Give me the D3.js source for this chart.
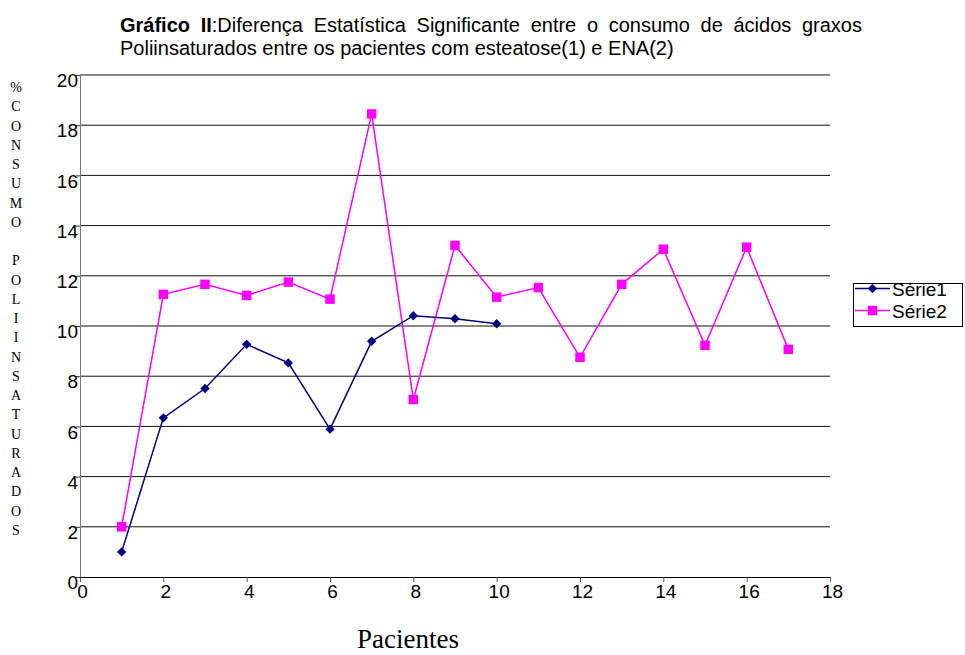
<!DOCTYPE html>
<html>
<head>
<meta charset="utf-8">
<script src="https://cdn.jsdelivr.net/npm/d3@7"></script>
<style>
  html, body { margin: 0; padding: 0; background: #fff; }
  svg { display: block; }
</style>
</head>
<body>
<svg id="chart" width="965" height="655"></svg>
<script>
// Patients on the x axis, % polyunsaturated intake on the y axis
const pacientes1 = [1, 2, 3, 4, 5, 6, 7, 8, 9, 10];
const serie1 = [1.0, 6.34, 7.51, 9.27, 8.53, 5.89, 9.39, 10.41, 10.29, 10.09];
const pacientes2 = [1, 2, 3, 4, 5, 6, 7, 8, 9, 10, 11, 12, 13, 14, 15, 16, 17];
const serie2 = [2.0, 11.26, 11.66, 11.22, 11.75, 11.07, 18.45, 7.07, 13.21, 11.15, 11.53, 8.75, 11.66, 13.06, 9.23, 13.14, 9.07];
const xTicks = [0, 2, 4, 6, 8, 10, 12, 14, 16, 18];
const yTicks = [0, 2, 4, 6, 8, 10, 12, 14, 16, 18, 20];
const seriesNames = ["Série1", "Série2"];
const yLabel = "%CONSUMO POLIINSATURADOS";
const xLabel = "Pacientes";
const titleBold = "Gráfico II";
const titleLine1 = ":Diferença Estatística Significante entre o consumo de ácidos graxos";
const titleLine2 = "Poliinsaturados entre os pacientes com esteatose(1) e ENA(2)";

const svg = d3.select("#chart");
const x = d3.scaleLinear().domain([0, 18]).range([80, 830]);
const y = d3.scaleLinear().domain([0, 20]).range([577, 75]);

// Horizontal gridlines
svg.append("g")
  .selectAll("line")
  .data(yTicks.filter(d => d > 0))
  .join("line")
  .attr("x1", x(0)).attr("x2", x(18))
  .attr("y1", d => y(d)).attr("y2", d => y(d))
  .attr("stroke", "#111").attr("stroke-width", 1);

// Y axis
const yAxis = svg.append("g")
  .attr("transform", `translate(${x(0)},0)`)
  .call(d3.axisLeft(y).tickValues(yTicks).tickSize(4).tickSizeOuter(0).tickPadding(-2));
yAxis.select(".domain").attr("stroke", "#777");
yAxis.selectAll(".tick line").attr("stroke", "#333");
yAxis.selectAll(".tick text")
  .attr("font-family", "Liberation Sans, Arial, sans-serif")
  .attr("font-size", 19).attr("fill", "#000")
  .attr("dy", "0.62em");

// X axis
const xAxis = svg.append("g")
  .attr("transform", `translate(0,${y(0)})`)
  .call(d3.axisBottom(x).tickValues(xTicks).tickSize(5).tickSizeOuter(0).tickPadding(3));
xAxis.select(".domain").attr("stroke", "#000");
xAxis.selectAll(".tick line").attr("stroke", "#555");
xAxis.selectAll(".tick text")
  .attr("font-family", "Liberation Sans, Arial, sans-serif")
  .attr("font-size", 19).attr("fill", "#000")
  .attr("dx", 2);

// Series lines and markers
const line = d3.line().x(d => x(d[0])).y(d => y(d[1]));
const data1 = pacientes1.map((p, i) => [p, serie1[i]]);
const data2 = pacientes2.map((p, i) => [p, serie2[i]]);

svg.append("path").datum(data2).attr("d", line)
  .attr("fill", "none").attr("stroke", "#ff00ff").attr("stroke-width", 1.5);
svg.append("path").datum(data1).attr("d", line)
  .attr("fill", "none").attr("stroke", "#000080").attr("stroke-width", 1.5);

const square = d3.symbol().type(d3.symbolSquare).size(90);
// Diamond drawn as a square turned 45 degrees
const diamond = d3.symbol().type(d3.symbolSquare).size(44);

svg.append("g").selectAll("path").data(data2).join("path")
  .attr("d", square)
  .attr("transform", d => `translate(${x(d[0])},${y(d[1])})`)
  .attr("fill", "#ff00ff");
svg.append("g").selectAll("path").data(data1).join("path")
  .attr("d", diamond)
  .attr("transform", d => `translate(${x(d[0])},${y(d[1])}) rotate(45)`)
  .attr("fill", "#000080");

// Legend
const legend = svg.append("g");
legend.append("rect")
  .attr("x", 853.5).attr("y", 283.5).attr("width", 109).attr("height", 43)
  .attr("fill", "#fff").attr("stroke", "#000").attr("stroke-width", 1);
const legendRows = [
  { name: seriesNames[0], color: "#000080", sym: diamond, rot: 45, cy: 288.5 },
  { name: seriesNames[1], color: "#ff00ff", sym: square, rot: 0, cy: 310.5 }
];
legendRows.forEach(r => {
  legend.append("line").attr("x1", 855).attr("x2", 890)
    .attr("y1", r.cy).attr("y2", r.cy)
    .attr("stroke", r.color).attr("stroke-width", 1.5);
  legend.append("path").attr("d", r.sym)
    .attr("transform", `translate(872.5,${r.cy}) rotate(${r.rot})`).attr("fill", r.color);
  legend.append("text").attr("x", 892).attr("y", r.cy + 7)
    .attr("font-family", "Liberation Sans, Arial, sans-serif")
    .attr("font-size", 19).attr("fill", "#000").text(r.name);
});

// Vertical y-axis label: one letter per row
const letters = Array.from(yLabel);
svg.append("g").selectAll("text").data(letters).join("text")
  .attr("x", 16).attr("y", (d, i) => 92 + i * 19.26)
  .attr("text-anchor", "middle")
  .attr("font-family", "Liberation Serif, 'Times New Roman', serif")
  .attr("font-size", 14).attr("fill", "#000")
  .text(d => d === " " ? "" : d);

// X-axis label
svg.append("text").attr("x", 408).attr("y", 648)
  .attr("text-anchor", "middle")
  .attr("font-family", "Liberation Serif, 'Times New Roman', serif")
  .attr("font-size", 27).attr("fill", "#000")
  .text(xLabel);

// Title, first line justified across the plot width
const tFont = "Liberation Sans, Arial, sans-serif";
const t1 = svg.append("text").attr("x", 120).attr("y", 32)
  .attr("font-family", tFont).attr("font-size", 20).attr("fill", "#000");
t1.append("tspan").attr("font-weight", "bold").text(titleBold);
t1.append("tspan").text(titleLine1);
const natural = t1.node().getComputedTextLength();
const gaps = (titleBold + titleLine1).split(" ").length - 1;
t1.attr("word-spacing", Math.max(0, (742 - natural) / gaps));

svg.append("text").attr("x", 120).attr("y", 55)
  .attr("font-family", tFont).attr("font-size", 20).attr("fill", "#000")
  .text(titleLine2);
</script>
</body>
</html>
